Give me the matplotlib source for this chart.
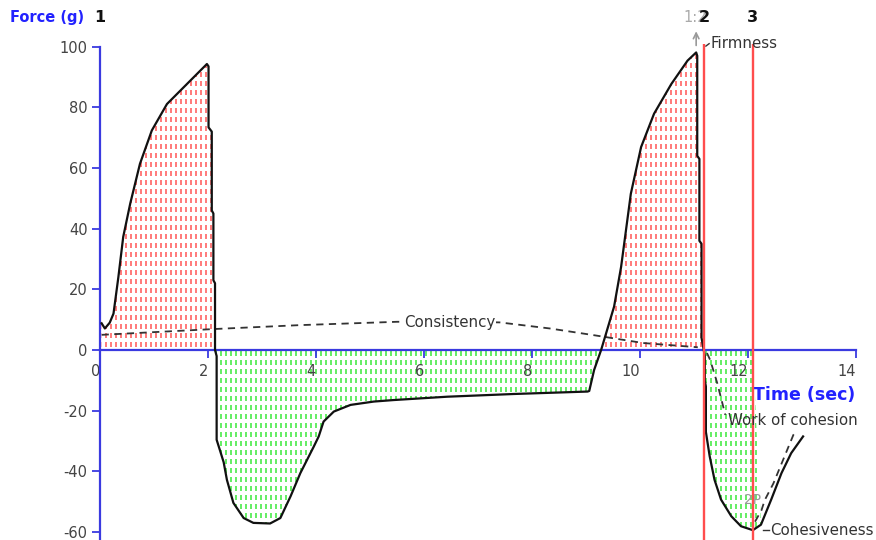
import numpy as np
import matplotlib
matplotlib.use("Agg")
import matplotlib.pyplot as plt
from matplotlib.path import Path

plt.rcParams["axes.unicode_minus"] = False

# Texture-analyser trace: force (g) against time (s)
time_s = [0.03, 0.09, 0.18, 0.25, 0.34, 0.43, 0.56, 0.74, 0.96, 1.24, 1.61, 1.98,
          2.01, 2.01, 2.07, 2.07, 2.10, 2.10, 2.13, 2.13, 2.16, 2.16, 2.22, 2.29,
          2.35, 2.47, 2.66, 2.84, 3.15, 3.34, 3.53, 3.71, 3.96, 4.05, 4.14, 4.33,
          4.64, 5.07, 5.44, 6.43, 7.67, 9.03, 9.06, 9.15, 9.28, 9.52, 9.65, 9.83,
          10.02, 10.26, 10.58, 10.88, 11.04, 11.06, 11.06, 11.10, 11.10, 11.14,
          11.14, 11.18, 11.20, 11.20, 11.22, 11.22, 11.29, 11.38, 11.50, 11.69,
          11.87, 12.09, 12.24, 12.43, 12.62, 12.80, 13.02]
force_g = [8.8, 7.1, 9.0, 12.0, 24.0, 37.3, 48.3, 61.4, 72.4, 81.1, 87.7, 94.3,
           93.5, 73.4, 72.0, 46.0, 45.0, 23.0, 22.0, 0.0, -2.0, -29.6, -33.0, -37.0,
           -42.8, -50.4, -55.4, -57.0, -57.2, -55.4, -48.2, -40.6, -31.8, -28.5, -23.6, -20.3,
           -18.1, -17.0, -16.5, -15.4, -14.5, -13.7, -13.5, -6.6, 0.0, 14.3, 27.4, 51.5,
           66.9, 77.9, 87.7, 95.4, 98.1, 97.0, 64.0, 63.0, 36.0, 35.0,
           4.0, 0.0, -2.0, -10.0, -12.0, -27.0, -35.0, -42.8, -49.3, -54.8,
           -58.1, -59.4, -57.6, -49.3, -40.6, -34.0, -28.5]

# Consistency guide line
consist_t = [0.03, 2.10, 3.70, 5.50, 6.50, 7.40, 8.33, 9.14, 10.06, 11.07]
consist_f = [5.0, 6.9, 8.2, 9.3, 9.4, 9.1, 7.1, 4.9, 2.3, 0.9]

# Work of cohesion leader
cohesion_t = [11.24, 11.30, 11.43, 11.58]
cohesion_f = [-1.0, -3.3, -10.9, -21.4]

# Second-cycle guide near the cohesiveness point
guide_t = [12.13, 12.25, 12.31, 12.47, 12.84, 12.90]
guide_f = [-56.6, -52.8, -49.5, -44.0, -28.0, -26.5]

# Cursor markers
marker_t = [0.0, 11.19, 12.09]
marker_lbl = ["1", "2", "3"]
peak_t, peak_f = 11.04, 98.1
trough_t, trough_f = 12.09, -59.4

x_ticks = list(range(0, 15, 2))
y_ticks = list(range(-60, 101, 20))

W, H, DPI = 876, 540, 100
XMIN, XMAX = -100 / 54.0, 776 / 54.0
YMIN, YMAX = -190 / 3.033, 350 / 3.033

BLUE_AX = "#3a3ae0"
BLUE_TXT = "#2222ff"
TXT = "#333333"

fig = plt.figure(figsize=(W / DPI, H / DPI), dpi=DPI)
ax = fig.add_axes([0, 0, 1, 1])
ax.set_xlim(XMIN, XMAX)
ax.set_ylim(YMIN, YMAX)
ax.patch.set_facecolor("white")

t = np.array(time_s)
f = np.array(force_g)
t3 = marker_t[2]


def dot_pattern(rgb, px=5, py=9, w=2, h=5):
    """Grid of small dots, one pixel per image cell."""
    img = np.zeros((H, W, 4))
    jj, ii = np.meshgrid(np.arange(W), np.arange(H))
    core = (jj % px < w) & (ii % py < h)
    img[..., 0], img[..., 1], img[..., 2] = rgb
    img[..., 3] = np.where(core, 0.85, 0.0)
    return img


def patterned_fill(where, rgb):
    coll = ax.fill_between(t, f, 0, where=where, interpolate=True,
                           facecolor="none", edgecolor="none")
    clip = Path.make_compound_path(*coll.get_paths())
    im = ax.imshow(dot_pattern(rgb), extent=(XMIN, XMAX, YMIN, YMAX),
                   origin="upper", interpolation="nearest", aspect="auto", zorder=1)
    im.set_clip_path(clip, ax.transData)


patterned_fill((f >= 0) & (t <= t3), (1.0, 0.40, 0.40))
patterned_fill((f <= 0) & (t <= t3), (0.30, 0.92, 0.30))
ax.set_xlim(XMIN, XMAX)
ax.set_ylim(YMIN, YMAX)

# Guide lines
dash = dict(color="#333333", lw=1.3, ls=(0, (4, 3)), zorder=2)
ax.plot(consist_t, consist_f, **dash)
ax.plot(cohesion_t, cohesion_f, **dash)
ax.plot(guide_t, guide_f, **dash)

# Main trace
ax.plot(t, f, color="#111111", lw=1.6, zorder=3, solid_joinstyle="round")

# Cursor lines
ax.vlines(marker_t[1:], YMIN, 101, color="#ff4d4d", lw=1.7, zorder=4)

# Axes styling: crossing axes at the origin
for s in ("top", "right"):
    ax.spines[s].set_visible(False)
ax.spines["left"].set_position(("data", 0))
ax.spines["bottom"].set_position(("data", 0))
ax.spines["left"].set_bounds(YMIN, 100)
ax.spines["bottom"].set_bounds(0, 14)
for s in ("left", "bottom"):
    ax.spines[s].set_color(BLUE_AX)
    ax.spines[s].set_linewidth(1.6)
    ax.spines[s].set_zorder(2.5)
ax.set_xticks(x_ticks)
ax.set_yticks(y_ticks)
ax.tick_params(axis="both", direction="out", length=6, width=1.3, color=BLUE_AX,
               labelcolor="#444444", labelsize=10.5, pad=3)
ax.tick_params(axis="x", pad=4)
for lbl in ax.get_xticklabels():
    lbl.set_horizontalalignment("right")

# Axis titles
ax.text(-100 / 54.0 + 10 / 54.0, 109.5, "Force (g)", color=BLUE_TXT, fontsize=10.5,
        fontweight="bold", ha="left", va="center")
ax.text(13.04, -14.8, "Time (sec)", color=BLUE_TXT, fontsize=12.5,
        fontweight="bold", ha="center", va="center")

# Cursor markers (grey peak cursor sits just behind cursor 2)
ax.text(marker_t[1] + 0.06, 109.5, "1:2", color="#aaaaaa", fontsize=10.5,
        ha="right", va="center", zorder=4)
for mt, ml in zip(marker_t, marker_lbl):
    ax.text(mt, 109.5, ml, color="#111111", fontsize=11.5, fontweight="bold",
            ha="center", va="center", zorder=5)

ax.annotate("", xy=(peak_t, 106), xytext=(peak_t, 99.5),
            arrowprops=dict(arrowstyle="->", color="#999999", lw=1.2))

# Annotations
ann = dict(color=TXT, fontsize=10.8, va="center", zorder=6)
ax.plot([11.22, 11.28], [100.2, 101.0], color=TXT, lw=1)
ax.text(11.30, 100.9, "Firmness", ha="left", **ann)
ax.text(6.47, 9.2, "Consistency", ha="center",
        bbox=dict(facecolor="white", edgecolor="none", pad=0.5), **ann)
ax.text(11.63, -23.1, "Work of cohesion", ha="left", **ann)
ax.plot([12.28, 12.38], [trough_f, trough_f], color=TXT, lw=1)
ax.text(12.41, trough_f, "Cohesiveness", ha="left", **ann)
ax.text(12.08, -49.5, "2P", color="#999999", fontsize=10, ha="center", va="center",
        zorder=6)

fig.savefig("out.png", dpi=DPI)
